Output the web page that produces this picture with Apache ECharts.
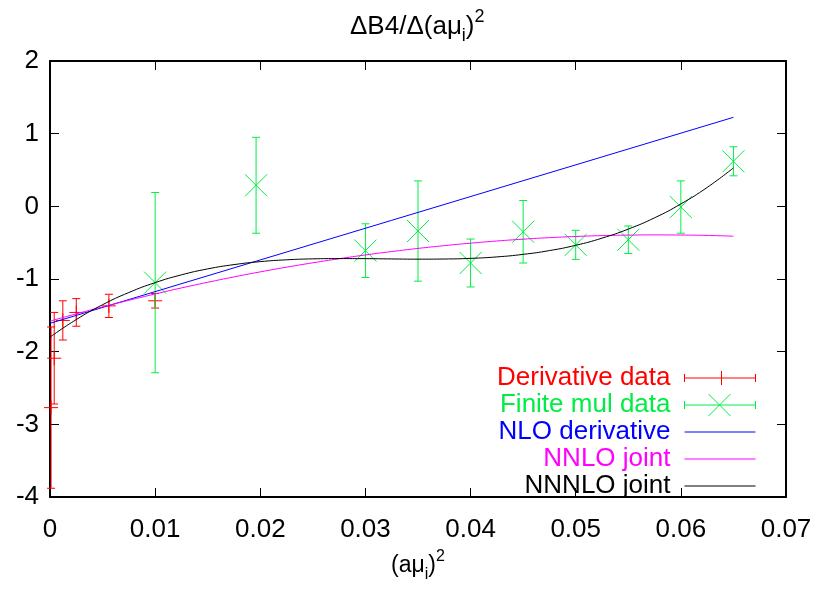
<!DOCTYPE html>
<html><head><meta charset="utf-8">
<script src="https://cdn.jsdelivr.net/npm/echarts@6/dist/echarts.min.js"></script>
<style>html,body{margin:0;padding:0;background:#fff}#c{width:817px;height:590px}</style>
</head><body><div id="c"></div>
<script>
// ---- data ----
const xTickValues = [0, 0.01, 0.02, 0.03, 0.04, 0.05, 0.06, 0.07];
const yTickValues = [-4, -3, -2, -1, 0, 1, 2];

const derivX   = [0.0001, 0.0004, 0.00122, 0.0025, 0.0056, 0.01];
const derivY   = [-2.77, -2.09, -1.57, -1.46, -1.37, -1.30];
const derivErr = [1.11, 0.63, 0.27, 0.19, 0.16, 0.10];

const finiteX   = [0.01, 0.0196, 0.03, 0.035, 0.04, 0.045, 0.05, 0.055, 0.06, 0.065];
const finiteY   = [-1.05, 0.29, -0.61, -0.34, -0.78, -0.35, -0.53, -0.46, -0.01, 0.62];
const finiteErr = [1.24, 0.66, 0.37, 0.69, 0.33, 0.43, 0.20, 0.19, 0.36, 0.20];

const nloX = [0, 0.065];
const nloY = [-1.61, 1.225];

const fitX = [0, 0.0025, 0.005, 0.0075, 0.01, 0.0125, 0.015, 0.0175, 0.02, 0.0225, 0.025, 0.0275, 0.03,
  0.0325, 0.035, 0.0375, 0.04, 0.0425, 0.045, 0.0475, 0.05, 0.0525, 0.055, 0.0575, 0.06, 0.0625, 0.065];
const nnloY = [-1.58, -1.48, -1.384, -1.293, -1.206, -1.123, -1.045, -0.971, -0.902, -0.837, -0.777, -0.721, -0.669,
  -0.622, -0.579, -0.541, -0.507, -0.477, -0.452, -0.431, -0.415, -0.403, -0.396, -0.393, -0.395, -0.400, -0.411];
const nnnloY = [-1.80, -1.558, -1.354, -1.186, -1.050, -0.943, -0.861, -0.802, -0.761, -0.736, -0.723, -0.719, -0.720,
  -0.724, -0.727, -0.725, -0.716, -0.696, -0.661, -0.609, -0.536, -0.438, -0.313, -0.158, 0.033, 0.260, 0.529];

const seriesNames = ['Derivative data', 'Finite mul data', 'NLO derivative', 'NNLO joint', 'NNNLO joint'];
const seriesColors = ['#ff0000', '#00ee44', '#0000ff', '#ff00ff', '#000000'];

// ---- chart ----
const FONT = '"Liberation Sans", Arial, Helvetica, sans-serif';
const chart = echarts.init(document.getElementById('c'), null, {renderer: 'canvas'});

function errRender(kind, color) {
  return function (params, api) {
    const x = api.value(0), y = api.value(1), e = api.value(2);
    const c = api.coord([x, y]);
    const hi = api.coord([x, y + e]);
    const lo = api.coord([x, y - e]);
    const st = {stroke: color, lineWidth: 1};
    const cap = 4;
    const ch = [
      {type: 'line', shape: {x1: c[0], y1: hi[1], x2: c[0], y2: lo[1]}, style: st},
      {type: 'line', shape: {x1: c[0] - cap, y1: hi[1], x2: c[0] + cap, y2: hi[1]}, style: st},
      {type: 'line', shape: {x1: c[0] - cap, y1: lo[1], x2: c[0] + cap, y2: lo[1]}, style: st}
    ];
    if (kind === 'plus') {
      const s = 7;
      ch.push({type: 'line', shape: {x1: c[0] - s, y1: c[1], x2: c[0] + s, y2: c[1]}, style: st});
      ch.push({type: 'line', shape: {x1: c[0], y1: c[1] - s, x2: c[0], y2: c[1] + s}, style: st});
    } else {
      const s = 11;
      ch.push({type: 'line', shape: {x1: c[0] - s, y1: c[1] - s, x2: c[0] + s, y2: c[1] + s}, style: st});
      ch.push({type: 'line', shape: {x1: c[0] - s, y1: c[1] + s, x2: c[0] + s, y2: c[1] - s}, style: st});
    }
    return {type: 'group', children: ch};
  };
}

const legendIcons = [
  'path://M0,0 M0,11 L71,11 M0,7 L0,15 M71,7 L71,15 M37,4 L37,18 M71,22',
  'path://M0,0 M0,11 L71,11 M0,7 L0,15 M71,7 L71,15 M24,0 L46,22 M24,22 L46,0 M71,22',
  'path://M0,0 M0,11 L71,11 M71,22',
  'path://M0,0 M0,11 L71,11 M71,22',
  'path://M0,0 M0,11 L71,11 M71,22'
];

function richSet(main, small) {
  return {
    m: {fontSize: main, fontFamily: FONT, fontWeight: 'normal', color: '#000', lineHeight: main + 11},
    sub: {fontSize: small, fontFamily: FONT, fontWeight: 'normal', color: '#000', lineHeight: small, verticalAlign: 'bottom'},
    sup: {fontSize: small, fontFamily: FONT, fontWeight: 'normal', color: '#000', lineHeight: small, verticalAlign: 'top'}
  };
}

const frameLine = {show: true, lineStyle: {color: '#000', width: 2}};
const tickStyle = {show: true, inside: true, length: 9, lineStyle: {color: '#000', width: 1}};

const option = {
  animation: false,
  backgroundColor: '#fff',
  title: {
    text: '{m|ΔB4/Δ(aμ}{sub|i}{m|)}{sup|2}',
    left: 350,
    top: 8,
    padding: 0,
    textStyle: {fontFamily: FONT, fontWeight: 'normal', color: '#000', rich: richSet(26, 18)}
  },
  grid: {left: 50, right: 31, top: 61, bottom: 93, containLabel: false, outerBoundsMode: 'none'},
  legend: {
    orient: 'vertical',
    right: 61,
    top: 365,
    padding: 0,
    align: 'right',
    itemWidth: 71,
    itemHeight: 22,
    itemGap: 1,
    selectedMode: false,
    textStyle: {fontSize: 26, fontFamily: FONT, padding: [0, 9, 0, 0]},
    data: seriesNames.map((n, i) => ({
      name: n,
      icon: legendIcons[i],
      itemStyle: {color: 'rgba(0,0,0,0)', borderColor: seriesColors[i], borderWidth: 1},
      textStyle: {color: seriesColors[i]}
    }))
  },
  xAxis: [{
    type: 'value', min: xTickValues[0], max: xTickValues[xTickValues.length - 1], interval: 0.01,
    position: 'bottom',
    axisLine: Object.assign({onZero: false}, frameLine),
    axisTick: tickStyle,
    splitLine: {show: false},
    axisLabel: {fontSize: 26, fontFamily: FONT, color: '#000', margin: 20,
      formatter: v => v === 0 ? '0' : v.toFixed(2)},
    name: '{m|(aμ}{sub|i}{m|)}{sup|2}',
    nameLocation: 'middle',
    nameGap: 52,
    nameTextStyle: {fontFamily: FONT, color: '#000', rich: richSet(23, 16)}
  }, {
    type: 'value', min: xTickValues[0], max: xTickValues[xTickValues.length - 1], interval: 0.01,
    position: 'top',
    axisLine: Object.assign({onZero: false}, frameLine),
    axisTick: tickStyle,
    splitLine: {show: false},
    axisLabel: {show: false}
  }],
  yAxis: [{
    type: 'value', min: yTickValues[0], max: yTickValues[yTickValues.length - 1], interval: 1,
    position: 'left',
    axisLine: Object.assign({onZero: false}, frameLine),
    axisTick: tickStyle,
    splitLine: {show: false},
    axisLabel: {fontSize: 26, fontFamily: FONT, color: '#000', margin: 11}
  }, {
    type: 'value', min: yTickValues[0], max: yTickValues[yTickValues.length - 1], interval: 1,
    position: 'right',
    axisLine: Object.assign({onZero: false}, frameLine),
    axisTick: tickStyle,
    splitLine: {show: false},
    axisLabel: {show: false}
  }],
  series: [
    {
      name: seriesNames[0], type: 'custom', xAxisIndex: 0, yAxisIndex: 0,
      renderItem: errRender('plus', seriesColors[0]),
      itemStyle: {color: seriesColors[0]},
      encode: {x: 0, y: 1},
      data: derivX.map((x, i) => [x, derivY[i], derivErr[i]]),
      z: 3
    },
    {
      name: seriesNames[1], type: 'custom', xAxisIndex: 0, yAxisIndex: 0,
      renderItem: errRender('cross', seriesColors[1]),
      itemStyle: {color: seriesColors[1]},
      encode: {x: 0, y: 1},
      data: finiteX.map((x, i) => [x, finiteY[i], finiteErr[i]]),
      z: 3
    },
    {
      name: seriesNames[2], type: 'line', symbol: 'none', showSymbol: false,
      lineStyle: {color: seriesColors[2], width: 1}, itemStyle: {color: seriesColors[2]},
      data: nloX.map((x, i) => [x, nloY[i]]), z: 4
    },
    {
      name: seriesNames[3], type: 'line', symbol: 'none', showSymbol: false, smooth: true,
      lineStyle: {color: seriesColors[3], width: 1}, itemStyle: {color: seriesColors[3]},
      data: fitX.map((x, i) => [x, nnloY[i]]), z: 4
    },
    {
      name: seriesNames[4], type: 'line', symbol: 'none', showSymbol: false, smooth: true,
      lineStyle: {color: seriesColors[4], width: 1}, itemStyle: {color: seriesColors[4]},
      data: fitX.map((x, i) => [x, nnnloY[i]]), z: 4
    }
  ]
};
chart.setOption(option);
</script>
</body></html>
